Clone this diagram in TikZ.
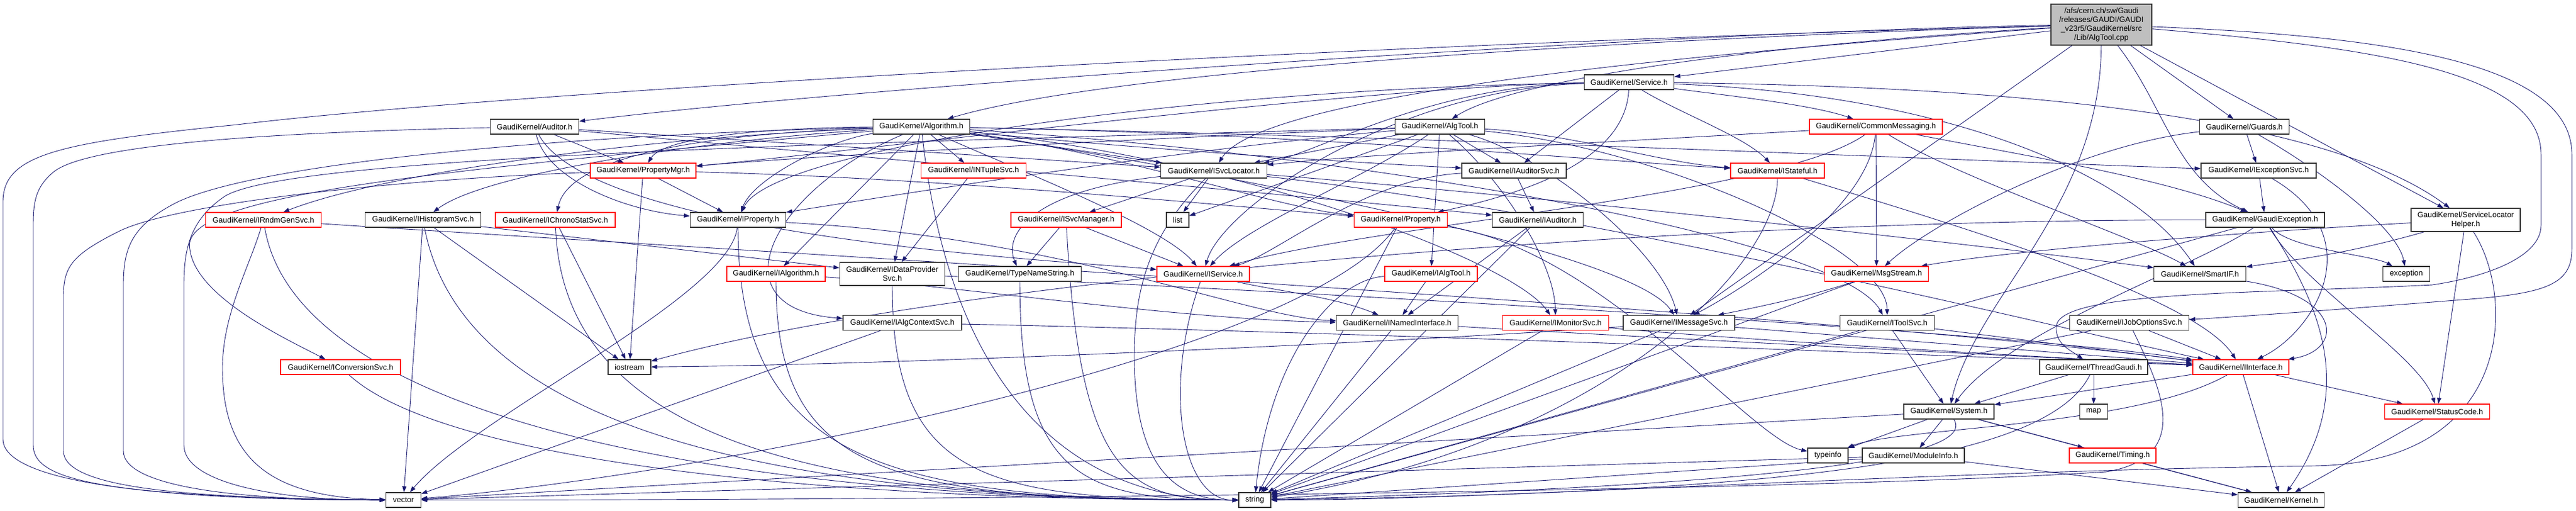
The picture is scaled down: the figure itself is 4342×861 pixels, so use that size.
\documentclass[tikz,border=0pt]{standalone}
\usepackage{fontspec}
\newfontfamily\dfont{Liberation Sans}
\usetikzlibrary{arrows.meta,backgrounds}
\definecolor{edgeblue}{HTML}{191970}
\definecolor{rootgrey}{HTML}{BFBFBF}
\definecolor{boxline}{HTML}{333333}
\begin{document}
\begin{tikzpicture}[x=1pt,y=-1pt,
  box/.style={draw=boxline, line width=1.3pt, fill=white, inner sep=0pt, minimum height=25pt, font={\dfont\fontsize{13}{15}\selectfont}, align=center},
  rbox/.style={box, draw=red},
  e/.style={draw=edgeblue, line width=0.9pt, -{Triangle[length=10pt,width=7pt]}},
]
\useasboundingbox (0,0) rectangle (4342,861);
% ---------- nodes ----------
\node[box, fill=rootgrey, minimum width=170pt, minimum height=69pt] (root) at (3542,41.5) {/afs/cern.ch/sw/Gaudi\\/releases/GAUDI/GAUDI\\\_v23r5/GaudiKernel/src\\/Lib/AlgTool.cpp};
\node[box, minimum width=151pt] (service) at (2746,138.5) {GaudiKernel/Service.h};
\node[box, minimum width=151pt] (algtool) at (2427,213.5) {GaudiKernel/AlgTool.h};
\node[box, minimum width=149pt] (auditor) at (901,213.5) {GaudiKernel/Auditor.h};
\node[box, minimum width=163pt] (algorithm) at (1553,213.5) {GaudiKernel/Algorithm.h};
\node[rbox, minimum width=224pt] (commsg) at (3162,213.5) {GaudiKernel/CommonMessaging.h};
\node[box, minimum width=151pt] (guards) at (3783,213.5) {GaudiKernel/Guards.h};
\node[rbox, minimum width=178pt] (propmgr) at (1084,287.5) {GaudiKernel/PropertyMgr.h};
\node[rbox, minimum width=177pt] (intuple) at (1641,287.5) {GaudiKernel/INTupleSvc.h};
\node[box, minimum width=179pt] (isvcloc) at (2046,287.5) {GaudiKernel/ISvcLocator.h};
\node[box, minimum width=176pt] (iauditorsvc) at (2552,287.5) {GaudiKernel/IAuditorSvc.h};
\node[rbox, minimum width=158pt] (istateful) at (2996,287.5) {GaudiKernel/IStateful.h};
\node[box, minimum width=194pt] (iexcsvc) at (3807,287.5) {GaudiKernel/IExceptionSvc.h};
\node[rbox, minimum width=195pt] (irndm) at (444,370.5) {GaudiKernel/IRndmGenSvc.h};
\node[box, minimum width=195pt] (ihisto) at (713,370.5) {GaudiKernel/IHistogramSvc.h};
\node[rbox, minimum width=202pt] (ichrono) at (936,370.5) {GaudiKernel/IChronoStatSvc.h};
\node[box, minimum width=161pt] (iproperty) at (1244,370.5) {GaudiKernel/IProperty.h};
\node[rbox, minimum width=186pt] (isvcmgr) at (1797,370.5) {GaudiKernel/ISvcManager.h};
\node[box, minimum width=38pt] (list) at (1985,370.5) {list};
\node[rbox, minimum width=157pt] (property) at (2361,370.5) {GaudiKernel/Property.h};
\node[box, minimum width=153pt] (iauditor) at (2592,370.5) {GaudiKernel/IAuditor.h};
\node[box, minimum width=200pt] (gexc) at (3818,370.5) {GaudiKernel/GaudiException.h};
\node[box, minimum width=184pt, minimum height=39pt] (slh) at (4156,370.5) {GaudiKernel/ServiceLocator\\Helper.h};
\node[rbox, minimum width=166pt] (ialgorithm) at (1308,461.5) {GaudiKernel/IAlgorithm.h};
\node[box, minimum width=177pt, minimum height=39pt] (idataprov) at (1504,461.5) {GaudiKernel/IDataProvider\\Svc.h};
\node[box, minimum width=207pt] (typename) at (1719,461.5) {GaudiKernel/TypeNameString.h};
\node[rbox, minimum width=156pt] (iservice) at (2028,461.5) {GaudiKernel/IService.h};
\node[rbox, minimum width=156pt] (ialgtool) at (2412,461.5) {GaudiKernel/IAlgTool.h};
\node[rbox, minimum width=175pt] (msgstream) at (3163,461.5) {GaudiKernel/MsgStream.h};
\node[box, minimum width=155pt] (smartif) at (3708,461.5) {GaudiKernel/SmartIF.h};
\node[box, minimum width=79pt] (exception) at (4056,461.5) {exception};
\node[box, minimum width=200pt] (ialgctx) at (1521,544) {GaudiKernel/IAlgContextSvc.h};
\node[box, minimum width=205pt] (inamed) at (2355,544) {GaudiKernel/INamedInterface.h};
\node[rbox, minimum width=179pt] (imonitor) at (2622,544) {GaudiKernel/IMonitorSvc.h};
\node[box, minimum width=188pt] (imessage) at (2830,544) {GaudiKernel/IMessageSvc.h};
\node[box, minimum width=159pt] (itoolsvc) at (3181,544) {GaudiKernel/IToolSvc.h};
\node[box, minimum width=201pt] (ijobopt) at (3589,544) {GaudiKernel/IJobOptionsSvc.h};
\node[rbox, minimum width=202pt] (iconv) at (574,618.5) {GaudiKernel/IConversionSvc.h};
\node[box, minimum width=72pt] (iostream) at (1061,618.5) {iostream};
\node[box, minimum width=182pt] (threadg) at (3529,618.5) {GaudiKernel/ThreadGaudi.h};
\node[rbox, minimum width=162pt] (iinterface) at (3777,618.5) {GaudiKernel/IInterface.h};
\node[box, minimum width=152pt] (system) at (3285,693.5) {GaudiKernel/System.h};
\node[box, minimum width=47pt] (map) at (3529,693.5) {map};
\node[rbox, minimum width=177pt] (statuscode) at (4108,693.5) {GaudiKernel/StatusCode.h};
\node[box, minimum width=68pt] (typeinfo) at (3081,767.5) {typeinfo};
\node[box, minimum width=172pt] (moduleinfo) at (3225,767.5) {GaudiKernel/ModuleInfo.h};
\node[rbox, minimum width=146pt] (timing) at (3561,767.5) {GaudiKernel/Timing.h};
\node[box, minimum width=59pt] (vector) at (680,842.5) {vector};
\node[box, minimum width=54pt] (string) at (2115,842.5) {string};
\node[box, minimum width=145pt] (kernel) at (3845,842.5) {GaudiKernel/Kernel.h};
% ---------- edges ----------
\begin{pgfonlayer}{background}
\fill[white] (0,0) rectangle (4342,861);
% root
\draw[e] (root) -- (service);
\draw[e] (root) .. controls (2900,80) and (2540,140) .. (algtool);
\draw[e] (root) .. controls (2900,60) and (1900,110) .. (algorithm);
\draw[e] (root) .. controls (2900,50) and (1500,140) .. (auditor);
\draw[e] (root) .. controls (2400,70) and (900,150) .. (400,210) .. controls (100,240) and (5,260) .. (5,340) -- (5,740) .. controls (5,810) and (250,843) .. (vector);
\draw[e] (root) .. controls (2700,100) and (2120,170) .. (isvcloc);
\draw[e] (root) -- (imessage);
\draw[e] (root) .. controls (3540,350) and (3330,500) .. (system);
\draw[e] (root) .. controls (3650,180) and (3665,300) .. (gexc);
\draw[e] (root) -- (guards);
\draw[e] (root) -- (slh);
\draw[e] (root) .. controls (4000,60) and (4335,100) .. (4335,260) -- (4335,420) .. controls (4335,480) and (4290,495) .. (4150,505) .. controls (3900,525) and (3750,535) .. (ijobopt);
\draw[e] (root) .. controls (4000,80) and (4283,120) .. (4283,260) -- (4283,380) .. controls (4283,430) and (4200,465) .. (4100,480) .. controls (3800,495) and (3470,490) .. (3466,550) .. controls (3464,580) and (3490,590) .. (threadg);
% Service
\draw[e] (service) -- (iauditorsvc);
\draw[e] (service) .. controls (2740,260) and (2600,320) .. (property);
\draw[e] (service) .. controls (2830,190) and (2940,230) .. (istateful);
\draw[e] (service) .. controls (3300,145) and (3900,180) .. (slh);
\draw[e] (service) .. controls (2900,160) and (3050,175) .. (commsg);
\draw[e] (service) .. controls (3300,160) and (3600,300) .. (smartif);
\draw[e] (service) .. controls (2400,145) and (2220,260) .. (isvcloc);
\draw[e] (service) .. controls (2350,150) and (2060,350) .. (iservice);
\draw[e] (service) .. controls (2000,150) and (1300,250) .. (iproperty);
\draw[e] (service) .. controls (2300,145) and (1400,260) .. (propmgr);
% AlgTool
\draw[e] (algtool) -- (ialgtool);
\draw[e] (algtool) -- (iauditorsvc);
\draw[e] (algtool) .. controls (2000,250) and (1500,330) .. (iproperty);
\draw[e] (algtool) .. controls (2300,300) and (2100,380) .. (iservice);
\draw[e] (algtool) -- (isvcloc);
\draw[e] (algtool) .. controls (2600,260) and (2800,420) .. (imessage);
\draw[e] (algtool) .. controls (2800,250) and (3180,420) .. (itoolsvc);
\draw[e] (algtool) .. controls (2000,230) and (1400,260) .. (propmgr);
\draw[e] (algtool) .. controls (2530,300) and (2620,440) .. (imonitor);
\draw[e] (algtool) .. controls (2650,225) and (2800,275) .. (istateful);
\draw[e] (algtool) -- (list);
\draw[e] (algtool) .. controls (1500,240) and (500,260) .. (380,330) .. controls (320,370) and (310,420) .. (310,480) -- (310,750) .. controls (310,810) and (450,843) .. (vector);
% Algorithm
\draw[e] (algorithm) .. controls (1400,235) and (1270,300) .. (iproperty);
\draw[e] (algorithm) -- (ialgorithm);
\draw[e] (algorithm) .. controls (1700,280) and (1960,380) .. (iservice);
\draw[e] (algorithm) .. controls (1300,215) and (1120,230) .. (propmgr);
\draw[e] (algorithm) -- (isvcloc);
\draw[e] (algorithm) .. controls (2000,280) and (2750,420) .. (imessage);
\draw[e] (algorithm) .. controls (2200,225) and (2750,275) .. (istateful);
\draw[e] (algorithm) .. controls (1600,650) and (1800,843) .. (string);
\draw[e] (algorithm) .. controls (1000,225) and (450,270) .. (300,340) .. controls (220,380) and (208,420) .. (208,480) -- (208,760) .. controls (208,820) and (400,843) .. (vector);
\draw[e] (algorithm) -- (idataprov);
\draw[e] (algorithm) .. controls (1200,235) and (820,290) .. (ihisto);
\draw[e] (algorithm) .. controls (700,290) and (300,330) .. (320,420) .. controls (330,500) and (480,570) .. (iconv);
\draw[e] (algorithm) -- (intuple);
\draw[e] (algorithm) .. controls (1200,225) and (960,260) .. (ichrono);
\draw[e] (algorithm) .. controls (1100,230) and (650,290) .. (irndm);
\draw[e] (algorithm) .. controls (1900,250) and (2300,275) .. (iauditorsvc);
\draw[e] (algorithm) .. controls (2300,260) and (3100,400) .. (itoolsvc);
\draw[e] (algorithm) .. controls (2100,270) and (2550,440) .. (imonitor);
\draw[e] (algorithm) .. controls (2400,230) and (3300,270) .. (iexcsvc);
\draw[e] (algorithm) .. controls (1300,320) and (1200,520) .. (ialgctx);
\draw[e] (algorithm) .. controls (1900,260) and (2150,350) .. (property);
% Auditor
\draw[e] (auditor) -- (propmgr);
\draw[e] (auditor) .. controls (920,300) and (1050,355) .. (iproperty);
\draw[e] (auditor) .. controls (1400,260) and (2200,330) .. (iauditor);
\draw[e] (auditor) .. controls (1000,400) and (1800,440) .. (iservice);
\draw[e] (auditor) -- (isvcloc);
\draw[e] (auditor) .. controls (500,222) and (150,240) .. (90,290) .. controls (60,315) and (56,340) .. (56,380) -- (56,750) .. controls (56,805) and (150,838) .. (vector);
% PropertyMgr
\draw[e] (propmgr) -- (iproperty);
\draw[e] (propmgr) -- (iostream);
\draw[e] (propmgr) .. controls (1600,300) and (2100,350) .. (property);
\draw[e] (propmgr) .. controls (700,300) and (300,340) .. (200,390) .. controls (120,430) and (107,450) .. (107,500) -- (107,760) .. controls (107,820) and (300,840) .. (vector);
% IProperty
\draw[e] (iproperty) .. controls (1800,400) and (2100,535) .. (inamed);
\draw[e] (iproperty) .. controls (1230,500) and (800,700) .. (vector);
\draw[e] (iproperty) .. controls (1244,780) and (1500,843) .. (string);
% Property
\draw[e] (property) -- (string);
\draw[e] (property) .. controls (2200,600) and (1200,800) .. (vector);
\draw[e] (property) .. controls (2700,420) and (2950,740) .. (typeinfo);
% IAuditorSvc, IAuditor, IAlgTool, IService, IAlgorithm
\draw[e] (iauditorsvc) -- (iauditor);
\draw[e] (iauditorsvc) .. controls (2300,300) and (2150,430) .. (iservice);
\draw[e] (iauditor) -- (inamed);
\draw[e] (iauditor) -- (string);
\draw[e] (ialgtool) -- (inamed);
\draw[e] (ialgtool) .. controls (2250,470) and (2140,600) .. (string);
\draw[e] (iservice) .. controls (2150,490) and (2250,500) .. (inamed);
\draw[e] (iservice) .. controls (1960,650) and (1990,843) .. (string);
\draw[e] (ialgorithm) .. controls (1600,480) and (2000,540) .. (inamed);
\draw[e] (ialgorithm) .. controls (1308,800) and (1500,843) .. (string);
% data provider, type names, svc manager, svc locator
\draw[e] (idataprov) .. controls (1504,800) and (1650,843) .. (string);
\draw[e] (idataprov) .. controls (2200,490) and (3400,560) .. (iinterface);
\draw[e] (typename) .. controls (1719,800) and (1820,843) .. (string);
\draw[e] (isvcmgr) -- (typename);
\draw[e] (isvcmgr) -- (iservice);
\draw[e] (isvcmgr) .. controls (1820,800) and (1900,843) .. (string);
\draw[e] (isvcloc) -- (isvcmgr);
\draw[e] (isvcloc) -- (list);
\draw[e] (isvcloc) .. controls (1750,320) and (1690,390) .. (typename);
\draw[e] (isvcloc) .. controls (1930,400) and (1912,500) .. (1912,600) .. controls (1912,800) and (1990,843) .. (string);
\draw[e] (isvcloc) .. controls (2600,330) and (3400,420) .. (smartif);
\draw[e] (isvcloc) .. controls (2700,360) and (3500,560) .. (iinterface);
\draw[e] (intuple) -- (idataprov);
% histogram, chrono, rndm, conversion
\draw[e] (ihisto) -- (idataprov);
\draw[e] (ihisto) -- (vector);
\draw[e] (ihisto) -- (iostream);
\draw[e] (ihisto) .. controls (780,720) and (1300,843) .. (string);
\draw[e] (ichrono) -- (iostream);
\draw[e] (ichrono) .. controls (950,750) and (1400,843) .. (string);
\draw[e] (irndm) .. controls (420,450) and (375,530) .. (375,620) .. controls (375,770) and (450,838) .. (vector);
\draw[e] (irndm) .. controls (500,700) and (1200,843) .. (string);
\draw[e] (irndm) .. controls (1200,420) and (3000,520) .. (iinterface);
\draw[e] (iconv) .. controls (750,780) and (1400,843) .. (string);
% interfaces row
\draw[e] (ialgctx) -- (vector);
\draw[e] (ialgctx) .. controls (2300,560) and (3300,600) .. (iinterface);
\draw[e] (inamed) -- (string);
\draw[e] (inamed) .. controls (2800,570) and (3400,600) .. (iinterface);
\draw[e] (imonitor) -- (string);
\draw[e] (imonitor) .. controls (2900,570) and (3400,600) .. (iinterface);
\draw[e] (imessage) -- (string);
\draw[e] (imessage) -- (iinterface);
\draw[e] (imessage) .. controls (2300,580) and (1500,615) .. (iostream);
\draw[e] (msgstream) .. controls (3050,500) and (2950,520) .. (imessage);
\draw[e] (msgstream) -- (string);
\draw[e] (itoolsvc) -- (iinterface);
\draw[e] (itoolsvc) -- (system);
\draw[e] (itoolsvc) -- (string);
\draw[e] (ijobopt) -- (iinterface);
\draw[e] (ijobopt) -- (string);
\draw[e] (ijobopt) .. controls (3640,650) and (3700,770) .. (3550,795) .. controls (3000,830) and (1500,843) .. (vector);
\draw[e] (istateful) .. controls (2996,450) and (2700,750) .. (string);
\draw[e] (istateful) .. controls (3300,380) and (3700,500) .. (iinterface);
\draw[e] (iexcsvc) -- (gexc);
\draw[e] (iexcsvc) .. controls (4000,400) and (3900,560) .. (iinterface);
% Guards, GaudiException, helper
\draw[e] (guards) -- (iexcsvc);
\draw[e] (guards) .. controls (3900,280) and (4040,380) .. (exception);
\draw[e] (guards) .. controls (3500,245) and (3250,380) .. (msgstream);
\draw[e] (gexc) .. controls (2800,370) and (1600,470) .. (iostream);
\draw[e] (gexc) -- (string);
\draw[e] (gexc) .. controls (3860,420) and (4000,430) .. (exception);
\draw[e] (gexc) .. controls (3700,450) and (3380,560) .. (system);
\draw[e] (gexc) .. controls (3900,500) and (3980,650) .. (kernel);
\draw[e] (gexc) .. controls (3880,480) and (4080,600) .. (statuscode);
\draw[e] (slh) -- (statuscode);
\draw[e] (slh) .. controls (3950,430) and (3850,440) .. (smartif);
\draw[e] (slh) .. controls (3800,390) and (3400,420) .. (msgstream);
\draw[e] (slh) .. controls (4240,500) and (4240,780) .. (3900,785) .. controls (3200,795) and (2500,843) .. (string);
\draw[e] (smartif) .. controls (3950,500) and (3950,590) .. (iinterface);
% CommonMessaging
\draw[e] (commsg) -- (msgstream);
\draw[e] (commsg) .. controls (3150,350) and (2950,480) .. (imessage);
\draw[e] (commsg) .. controls (2700,240) and (2300,260) .. (isvcloc);
\draw[e] (commsg) .. controls (3300,300) and (3600,400) .. (smartif);
\draw[e] (commsg) .. controls (3400,260) and (3650,300) .. (gexc);
\draw[e] (commsg) .. controls (3000,330) and (2300,380) .. (iservice);
% lower right
\draw[e] (threadg) -- (system);
\draw[e] (threadg) -- (map);
\draw[e] (threadg) .. controls (3450,780) and (3000,830) .. (string);
\draw[e] (iinterface) -- (kernel);
\draw[e] (iinterface) -- (statuscode);
\draw[e] (iinterface) -- (system);
\draw[e] (iinterface) .. controls (3600,720) and (3200,720) .. (typeinfo);
\draw[e] (system) -- (typeinfo);
\draw[e] (system) -- (moduleinfo);
\draw[e] (system) -- (timing);
\draw[e] (system) -- (kernel);
\draw[e] (system) .. controls (3340,780) and (2900,820) .. (string);
\draw[e] (system) -- (vector);
\draw[e] (moduleinfo) -- (kernel);
\draw[e] (moduleinfo) -- (string);
\draw[e] (moduleinfo) -- (vector);
\draw[e] (timing) -- (kernel);
\draw[e] (statuscode) -- (kernel);
\end{pgfonlayer}
\end{tikzpicture}
\end{document}
